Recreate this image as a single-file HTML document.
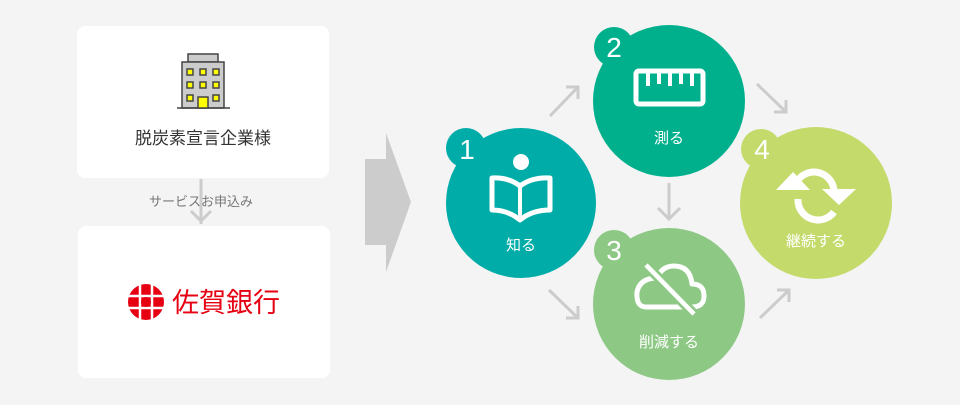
<!DOCTYPE html>
<html><head><meta charset="utf-8"><style>
body{margin:0;width:960px;height:405px;background:#f4f4f4;overflow:hidden;font-family:"Liberation Sans","Noto Sans CJK JP",sans-serif}
</style></head><body>
<svg width="960" height="405" viewBox="0 0 960 405" xmlns="http://www.w3.org/2000/svg" style="position:absolute;left:0;top:0">
<rect width="960" height="405" fill="#f4f4f4"/>
<rect x="77" y="26" width="252" height="152" rx="8" fill="#fff"/>
<rect x="78" y="226" width="252" height="152" rx="8" fill="#fff"/>
<!-- building -->
<rect x="188" y="54" width="30" height="8" fill="#ccc" stroke="#444" stroke-width="1.5"/>
<rect x="182" y="62" width="42" height="46" fill="#ccc" stroke="#444" stroke-width="1.5"/>
<line x1="177" y1="108" x2="230" y2="108" stroke="#444" stroke-width="1.5"/>
<g fill="#ff0" stroke="#444" stroke-width="1.5">
<rect x="187" y="69" width="6" height="6"/><rect x="200" y="69" width="6" height="6"/><rect x="213" y="69" width="6" height="6"/>
<rect x="187" y="82" width="6" height="6"/><rect x="200" y="82" width="6" height="6"/><rect x="213" y="82" width="6" height="6"/>
<rect x="187" y="95" width="6" height="6"/><rect x="213" y="95" width="6" height="6"/>
<rect x="198" y="97" width="10" height="11"/>
</g>
<text x="203" y="144" font-size="17" fill="#333" text-anchor="middle">脱炭素宣言企業様</text>
<line x1="201" y1="179" x2="201" y2="224" stroke="#ccc" stroke-width="3"/>
<polyline points="191,211 201,221 211,211" fill="none" stroke="#ccc" stroke-width="3"/>
<text x="201" y="206" font-size="13" fill="#777" text-anchor="middle">サービスお申込み</text>
<!-- big arrow -->
<polygon points="365,159 386,159 386,133 411,202 386,272 386,245 365,245" fill="#ccc"/>
<!-- saga logo -->
<circle cx="146" cy="302" r="18" fill="#e60012"/>
<g stroke="#fff" stroke-width="2.5"><line x1="140" y1="284" x2="140" y2="320"/><line x1="152" y1="284" x2="152" y2="320"/><line x1="128" y1="296" x2="164" y2="296"/><line x1="128" y1="308" x2="164" y2="308"/></g>
<circle cx="146" cy="302" r="5" fill="#e60012"/>
<text x="226" y="312" font-size="27" fill="#e60012" text-anchor="middle">佐賀銀行</text>
<!-- connectors -->
<g stroke="#ccc" stroke-width="3" fill="none">
<line x1="550" y1="116" x2="578" y2="87"/><polyline points="566,87 578,87 578,99"/>
<line x1="757" y1="84" x2="786" y2="112"/><polyline points="786,100 786,112 774,112"/>
<line x1="669" y1="183" x2="669" y2="218"/><polyline points="658,208 669,219 680,208"/>
<line x1="549" y1="290" x2="578" y2="318"/><polyline points="578,306 578,318 566,318"/>
<line x1="760" y1="318" x2="789" y2="290"/><polyline points="777,290 789,290 789,302"/>
</g>
<!-- circles -->
<circle cx="521" cy="203" r="75" fill="#00aca8"/><circle cx="466" cy="148" r="20" fill="#00aca8"/>
<circle cx="669" cy="101" r="76" fill="#00b08c"/><circle cx="614" cy="47" r="20" fill="#00b08c"/>
<circle cx="669" cy="304" r="76" fill="#8dc885"/><circle cx="614" cy="250" r="20" fill="#8dc885"/>
<circle cx="816" cy="203" r="76" fill="#c4db6c"/><circle cx="761" cy="149" r="20" fill="#c4db6c"/>
<g fill="#fff" font-size="28" text-anchor="middle">
<text x="467" y="159">1</text><text x="614" y="57">2</text><text x="614" y="260">3</text><text x="762" y="159">4</text>
</g>
<g fill="#fff" font-size="15" text-anchor="middle">
<text x="521" y="250">知る</text><text x="669" y="143">測る</text><text x="669" y="347">削減する</text><text x="816" y="246">継続する</text>
</g>
<!-- book -->
<circle cx="521" cy="162" r="8" fill="#fff"/>
<path d="M492,178 L492,210 Q508,210 520,220 Q532,210 550,210 L550,178 Q532,177 520,186 Q508,177 492,178Z" fill="none" stroke="#fff" stroke-width="5" stroke-linejoin="round"/>
<line x1="520" y1="186" x2="520" y2="218" stroke="#fff" stroke-width="4"/>
<!-- ruler -->
<rect x="636" y="71" width="67" height="33" rx="3" fill="none" stroke="#fff" stroke-width="5"/>
<g stroke="#fff" stroke-width="4"><line x1="648" y1="72" x2="648" y2="86"/><line x1="659" y1="72" x2="659" y2="84"/><line x1="670" y1="72" x2="670" y2="86"/><line x1="681" y1="72" x2="681" y2="84"/><line x1="692" y1="72" x2="692" y2="86"/></g>
<!-- cloud -->
<path d="M646,307 L692,307 Q704,307 704,296 Q704,284 692,284 Q690,266 674,266 Q662,266 657,278 Q640,278 637,292 Q636,307 646,307Z" fill="none" stroke="#fff" stroke-width="5" stroke-linejoin="round"/>
<line x1="646" y1="265" x2="694" y2="314" stroke="#8dc885" stroke-width="10"/>
<line x1="646" y1="265" x2="694" y2="314" stroke="#fff" stroke-width="4.5"/>
<!-- refresh -->
<path d="M798,199 A20,20 0 0 0 834,212" fill="none" stroke="#fff" stroke-width="7"/>
<path d="M834,192 A20,20 0 0 0 798,180" fill="none" stroke="#fff" stroke-width="7"/>
<polygon points="776,190 793,172 810,190" fill="#fff"/>
<polygon points="822,189 856,189 839,205" fill="#fff"/>
</svg>
</body></html>
